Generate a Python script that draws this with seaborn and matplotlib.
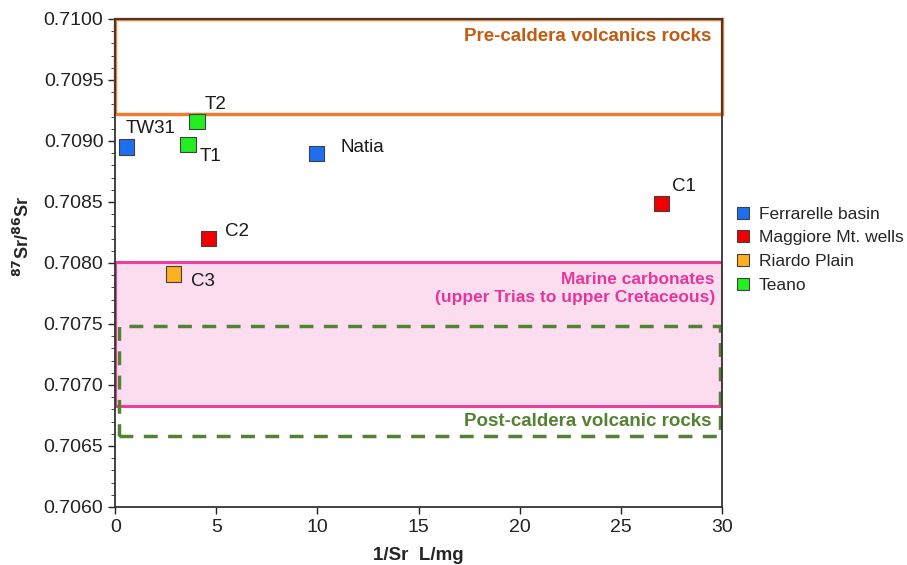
import pandas as pd
import numpy as np
import seaborn as sns
import matplotlib.pyplot as plt
from matplotlib.patches import Rectangle

# sample data
names = ["TW31", "Natia", "C1", "C2", "C3", "T1", "T2"]
inv_sr = [0.55, 9.95, 27.0, 4.6, 2.9, 3.6, 4.05]
sr_ratio = [0.70895, 0.70890, 0.70849, 0.70820, 0.70791, 0.70897, 0.70916]
groups = ["Ferrarelle basin", "Ferrarelle basin", "Maggiore Mt. wells", "Maggiore Mt. wells",
          "Riardo Plain", "Teano", "Teano"]
group_order = ["Ferrarelle basin", "Maggiore Mt. wells", "Riardo Plain", "Teano"]
group_colors = ["#1E6FF0", "#F00000", "#FFB020", "#22EE22"]

# reference fields (y ranges)
pre_caldera = (0.70922, 0.7100)
marine_carb = (0.70683, 0.70801)
post_caldera = (0.70658, 0.70748)

# label offsets in pixels (dx, dy)
label_offsets = {"TW31": (-1, 19), "Natia": (24, 6), "C1": (11, 17), "C2": (17, 7),
                 "C3": (17, -8), "T1": (12, -12), "T2": (8, 17)}

df = pd.DataFrame({"name": names, "x": inv_sr, "y": sr_ratio, "group": groups})

sns.set_style("ticks")
plt.rcParams['font.family'] = ['Liberation Sans', 'DejaVu Sans']

fig = plt.figure(figsize=(9.07, 5.65), dpi=100)
ax = fig.add_axes([0.127, 0.1027, 0.669, 0.8637])

# fields
ax.add_patch(Rectangle((0, pre_caldera[0]), 30, pre_caldera[1] - pre_caldera[0],
                       fill=False, edgecolor="#ED7D31", lw=2.5, zorder=2, clip_on=False))
ax.add_patch(Rectangle((0, marine_carb[0]), 30, marine_carb[1] - marine_carb[0],
                       facecolor="#FBDDEF", edgecolor="#EE3D9A", lw=2.2, zorder=1))
ax.add_patch(Rectangle((0.2, post_caldera[0]), 29.7, post_caldera[1] - post_caldera[0],
                       fill=False, edgecolor="#548235", lw=2.5, ls=(0, (4, 3)), zorder=2))

ax.text(29.5, 0.70986, "Pre-caldera volcanics rocks", color="#C55A11", fontsize=13.5,
        fontweight="bold", ha="right", va="center")
ax.text(29.65, 0.70779, "Marine carbonates\n(upper Trias to upper Cretaceous)", color="#E8359A",
        fontsize=12.5, fontweight="bold", ha="right", va="center", linespacing=1.2)
ax.text(29.5, 0.70670, "Post-caldera volcanic rocks", color="#548235", fontsize=13.5,
        fontweight="bold", ha="right", va="center")

sns.scatterplot(data=df, x="x", y="y", hue="group", hue_order=group_order,
                palette=group_colors, marker="s", s=120, edgecolor="#404040",
                linewidth=0.8, ax=ax, zorder=5)

for n, xv, yv in zip(names, inv_sr, sr_ratio):
    dx, dy = label_offsets[n]
    ax.annotate(n, (xv, yv), xytext=(dx, dy), textcoords="offset pixels",
                ha="left", va="center", fontsize=13.5, color="#1a1a1a")

ax.set_xlim(0, 30)
ax.set_ylim(0.7060, 0.7100)
ax.set_xticks(np.arange(0, 31, 5))
ax.set_yticks(np.arange(0.7060, 0.71001, 0.0005))
ax.set_yticklabels([f"{v:.4f}" for v in np.arange(0.7060, 0.71001, 0.0005)])
ax.set_yticks(np.arange(0.7060, 0.71001, 0.0001), minor=True)
ax.tick_params(axis="both", labelsize=14, direction="out", length=5, width=1, colors="#222222")
ax.tick_params(axis="y", which="minor", length=3)
for sp in ax.spines.values():
    sp.set_color("#333333")
    sp.set_linewidth(1.3)

ax.set_xlabel("1/Sr  L/mg", fontsize=13.5, fontweight="bold", labelpad=8)
ax.set_ylabel("$^{\\mathbf{87}}$Sr/$^{\\mathbf{86}}$Sr", fontsize=13, fontweight="bold")
ax.yaxis.set_label_coords(-0.135, 0.555)

ax.legend(loc="upper left", bbox_to_anchor=(0.995, 0.63), frameon=False, fontsize=12.5,
          handletextpad=-0.1, labelspacing=0.5, markerscale=0.75, borderaxespad=0)

fig.savefig("out.png", dpi=100)
